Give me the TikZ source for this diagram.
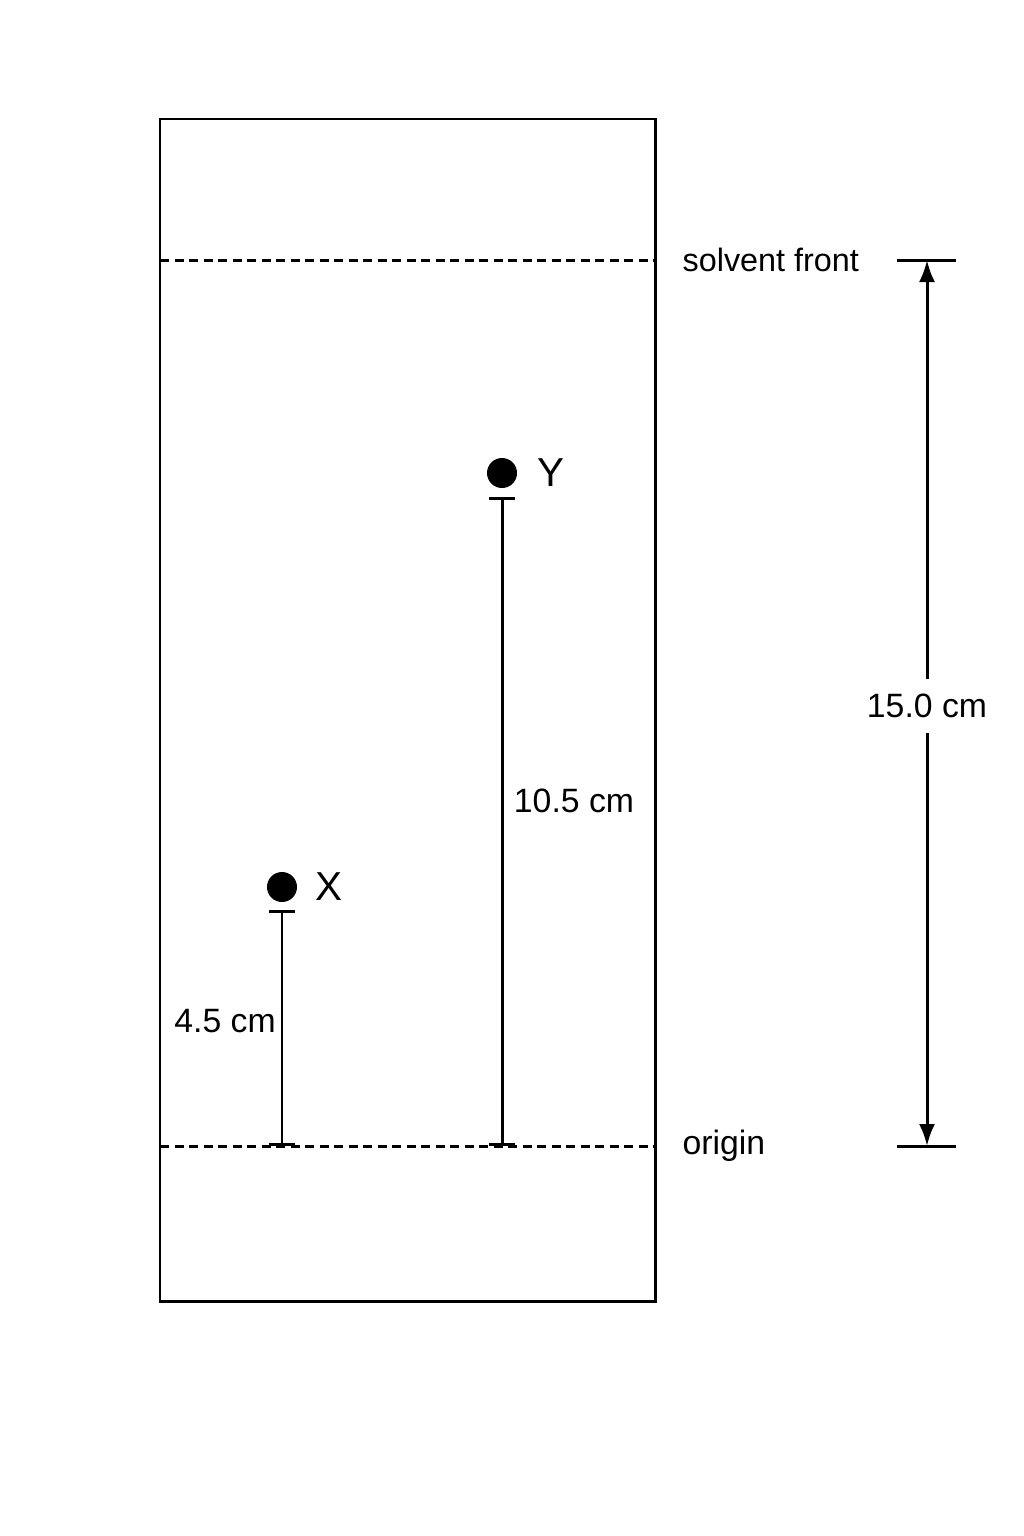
\documentclass[tikz,border=0pt]{standalone}
\usepackage{fontspec}
\setmainfont{Liberation Sans}
\usetikzlibrary{arrows.meta}

\tikzset{
	plate/.style={line width=0.85pt},
	front/.style={line width=0.85pt, dash pattern=on 0.9mm off 0.55mm},
	spot/.style={circle, fill=black, inner sep=0pt, minimum size=3mm},
	spotname/.style={font=\fontsize{11.5}{13}\selectfont, inner sep=0pt},
	dist/.style={line width=0.85pt, {Bar[width=2.6mm]}-{Bar[width=2.6mm]}},
	txt/.style={font=\fontsize{9.6}{12}\selectfont, inner sep=0pt},
	arrowtip/.style={line width=0.85pt, -{Latex[length=2.2mm,width=1.6mm]}}
}

\begin{document}
\begin{tikzpicture}[x=0.01cm, y=-0.01cm]
	\useasboundingbox (0,0) rectangle (1024,1536);

	\draw[plate] (160,119) rectangle (655,1301);

	\coordinate (frontL) at (160,260);
	\coordinate (frontR) at (655,260);
	\coordinate (originL) at (160,1146);
	\coordinate (originR) at (655,1146);
	\draw[front] (frontL) -- (frontR);
	\draw[front] (originL) -- (originR);

	\node[txt, font=\fontsize{9.2}{12}\selectfont, anchor=west] (frontlabel) at (682,260) {solvent front};
	\node[txt, anchor=west] (originlabel) at (682,1146) {origin};

	\node[spot] (spotY) at (502,473) {};
	\node[spot] (spotX) at (282,887) {};
	\node[spotname] (nameY) at (551,473) {Y};
	\node[spotname] (nameX) at (329,887) {X};

	\coordinate (Ytop) at (502,497);
	\coordinate (Ybase) at (502,1146);
	\coordinate (Xtop) at (282,910);
	\coordinate (Xbase) at (282,1146);
	\draw[dist] (Ytop) -- (Ybase);
	\draw[dist] (Xtop) -- (Xbase);
	\node[txt] (distY) at (574,801) {10.5 cm};
	\node[txt] (distX) at (225,1021) {4.5 cm};

	\coordinate (dimtop) at (927,260);
	\coordinate (dimbase) at (927,1146);
	\draw[plate] (897,260) -- (956,260);
	\draw[plate] (897,1146) -- (956,1146);
	\node[txt, inner sep=4pt] (dimlabel) at (927,706) {15.0 cm};
	\draw[arrowtip] (dimlabel) -- (dimtop);
	\draw[arrowtip] (dimlabel) -- (dimbase);
\end{tikzpicture}
\end{document}
